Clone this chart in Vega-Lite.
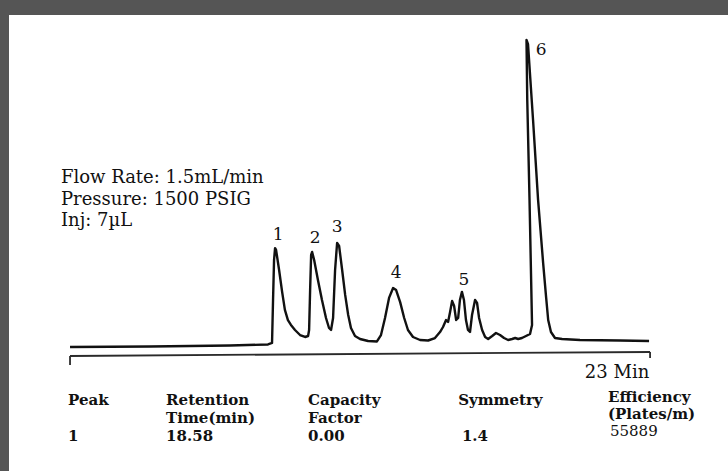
{
  "$schema": "https://vega.github.io/schema/vega-lite/v6.json",
  "width": 728,
  "height": 471,
  "autosize": {"type": "fit", "contains": "padding"},
  "padding": {"left": 9, "top": 15, "right": 0, "bottom": 0},
  "background": "#555555",
  "config": {"view": {"stroke": null, "fill": "white"}},
  "encoding": {
    "x": {"field": "t", "type": "quantitative", "scale": {"domain": [-2.42, 26.09], "nice": false, "zero": false}, "axis": null},
    "y": {"field": "s", "type": "quantitative", "scale": {"domain": [-42, 110], "nice": false, "zero": false}, "axis": null}
  },
  "layer": [
    {
      "data": {"values": [
        {"t":0,"s":-0.67},{"t":3.17,"s":-0.5},{"t":6.34,"s":-0.17},{"t":7.85,"s":0.17},{"t":8.01,"s":0.67},
        {"t":8.05,"s":15},{"t":8.09,"s":28.3},{"t":8.13,"s":32.3},{"t":8.17,"s":31.7},{"t":8.29,"s":25},
        {"t":8.41,"s":17.7},{"t":8.52,"s":11.7},{"t":8.64,"s":8.3},{"t":8.76,"s":6.67},{"t":8.92,"s":5},
        {"t":9.12,"s":3.33},{"t":9.32,"s":2.67},{"t":9.44,"s":3},{"t":9.48,"s":5},{"t":9.52,"s":18.3},
        {"t":9.56,"s":30},{"t":9.60,"s":31},{"t":9.68,"s":28.3},{"t":9.83,"s":21.7},{"t":9.99,"s":15},
        {"t":10.15,"s":9},{"t":10.27,"s":5.67},{"t":10.35,"s":5},{"t":10.43,"s":9},{"t":10.51,"s":25},
        {"t":10.59,"s":34},{"t":10.67,"s":33},{"t":10.79,"s":25},{"t":10.91,"s":16.7},{"t":11.03,"s":10},
        {"t":11.14,"s":5.67},{"t":11.30,"s":3},{"t":11.50,"s":2},{"t":11.82,"s":1.33},{"t":12.17,"s":1.17},
        {"t":12.33,"s":3.33},{"t":12.49,"s":9},{"t":12.65,"s":15.7},{"t":12.81,"s":19},{"t":12.93,"s":18.3},
        {"t":13.09,"s":14.3},{"t":13.25,"s":9},{"t":13.40,"s":5},{"t":13.60,"s":2.67},{"t":13.88,"s":1.67},
        {"t":14.20,"s":1.5},{"t":14.47,"s":2.33},{"t":14.67,"s":4.33},{"t":14.79,"s":6},{"t":14.91,"s":8.33},
        {"t":14.99,"s":7.67},{"t":15.07,"s":11},{"t":15.15,"s":14.7},{"t":15.23,"s":13},{"t":15.31,"s":8.33},
        {"t":15.39,"s":9},{"t":15.46,"s":15},{"t":15.54,"s":17.7},{"t":15.62,"s":15},{"t":15.70,"s":8.33},
        {"t":15.78,"s":5},{"t":15.86,"s":4.33},{"t":15.94,"s":10},{"t":16.06,"s":15},{"t":16.14,"s":14},
        {"t":16.22,"s":9},{"t":16.34,"s":5},{"t":16.46,"s":2.67},{"t":16.58,"s":2},{"t":16.74,"s":3},
        {"t":16.89,"s":4},{"t":17.05,"s":3.33},{"t":17.21,"s":2.33},{"t":17.37,"s":1.67},{"t":17.53,"s":2},
        {"t":17.65,"s":2.33},{"t":17.77,"s":2},{"t":17.92,"s":2.33},{"t":18.08,"s":3},{"t":18.24,"s":3.67},
        {"t":18.32,"s":6.67},{"t":18.22,"s":48.3},{"t":18.13,"s":81.7},{"t":18.10,"s":101.7},{"t":18.16,"s":100.3},
        {"t":18.36,"s":75},{"t":18.56,"s":48.3},{"t":18.76,"s":27.3},{"t":18.88,"s":15.7},{"t":18.96,"s":8.33},
        {"t":19.07,"s":4.33},{"t":19.23,"s":2.33},{"t":19.51,"s":2},{"t":20.22,"s":1.67},{"t":21.81,"s":1.5},
        {"t":22.96,"s":1.33}
      ]},
      "mark": {"type": "line", "color": "#111111", "strokeWidth": 2.4, "strokeJoin": "round"},
      "encoding": {"order": {"value": null}}
    },
    {
      "data": {"values": [
        {"t":0,"s":-3.67,"t2":23,"s2":-2.33},
        {"t":0,"s":-3.67,"t2":0,"s2":-6.67},
        {"t":23,"s":-2.33,"t2":23,"s2":-4.33}
      ]},
      "mark": {"type": "rule", "color": "#2a2a2a", "strokeWidth": 1.8},
      "encoding": {"x2": {"field": "t2"}, "y2": {"field": "s2"}}
    },
    {
      "data": {"values": [
        {"t":8.25,"s":36.7,"label":"1"},
        {"t":9.72,"s":35.7,"label":"2"},
        {"t":10.59,"s":39.3,"label":"3"},
        {"t":12.93,"s":24,"label":"4"},
        {"t":15.62,"s":21.7,"label":"5"},
        {"t":18.68,"s":98.3,"label":"6"}
      ]},
      "mark": {"type": "text", "font": "DejaVu Serif", "fontSize": 17, "color": "#111111", "align": "center", "baseline": "middle"},
      "encoding": {"text": {"field": "label"}}
    },
    {
      "data": {"values": [
        {"t":-0.36,"s":55.7,"label":"Flow Rate: 1.5mL/min"},
        {"t":-0.36,"s":48.3,"label":"Pressure: 1500 PSIG"},
        {"t":-0.36,"s":41.3,"label":"Inj: 7µL"}
      ]},
      "mark": {"type": "text", "font": "DejaVu Serif", "fontSize": 18, "color": "#111111", "align": "left", "baseline": "middle"},
      "encoding": {"text": {"field": "label"}}
    },
    {
      "data": {"values": [
        {"t":21.69,"s":-9.33,"label":"23 Min"}
      ]},
      "mark": {"type": "text", "font": "DejaVu Serif", "fontSize": 18, "color": "#111111", "align": "center", "baseline": "middle"},
      "encoding": {"text": {"field": "label"}}
    },
    {
      "data": {"values": [
        {"t":21.41,"s":-28.67,"label":"55889"}
      ]},
      "mark": {"type": "text", "font": "DejaVu Serif", "fontSize": 15, "color": "#111111", "align": "left", "baseline": "middle"},
      "encoding": {"text": {"field": "label"}}
    },
    {
      "data": {"values": [
        {"t":-0.08,"s":-18.33,"label":"Peak"},
        {"t":3.81,"s":-18.33,"label":"Retention"},
        {"t":9.44,"s":-18.33,"label":"Capacity"},
        {"t":15.39,"s":-18.33,"label":"Symmetry"},
        {"t":21.33,"s":-17.33,"label":"Efficiency"},
        {"t":3.81,"s":-24.33,"label":"Time(min)"},
        {"t":9.44,"s":-24.33,"label":"Factor"},
        {"t":21.33,"s":-23,"label":"(Plates/m)"},
        {"t":-0.08,"s":-30.33,"label":"1"},
        {"t":3.81,"s":-30.33,"label":"18.58"},
        {"t":9.44,"s":-30.33,"label":"0.00"},
        {"t":15.54,"s":-30.33,"label":"1.4"}
      ]},
      "mark": {"type": "text", "font": "DejaVu Serif", "fontSize": 15, "fontWeight": "bold", "color": "#111111", "align": "left", "baseline": "middle"},
      "encoding": {"text": {"field": "label"}}
    }
  ]
}
